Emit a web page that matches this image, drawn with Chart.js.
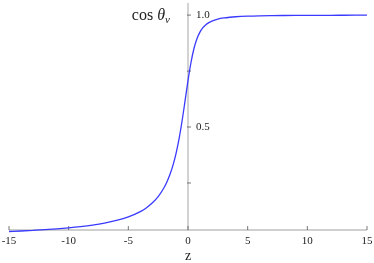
<!DOCTYPE html>
<html>
<head>
<meta charset="utf-8">
<script src="https://cdn.jsdelivr.net/npm/chart.js@4/dist/chart.umd.min.js"></script>
<style>
  html, body { margin: 0; padding: 0; background: #fff; }
  #wrap { width: 374px; height: 263px; }
</style>
</head>
<body>
<div id="wrap"><canvas id="chart" width="374" height="263"></canvas></div>
<script>
'use strict';

// z values and cos(theta_nu)
const zValues = [-15, -14, -13, -12, -11, -10, -9, -8, -7, -6, -5, -4, -3.5, -3, -2.5, -2,
  -1.75, -1.5, -1.25, -1, -0.75, -0.5, -0.25, 0, 0.25, 0.5, 0.75, 1, 1.25, 1.5, 1.75, 2,
  2.5, 3, 3.5, 4, 5, 6, 7, 8, 9, 10, 11, 12, 13, 14, 15];
const cosTheta = [0.0333, 0.0356, 0.0384, 0.0416, 0.0453, 0.0498, 0.0553, 0.0621, 0.0709,
  0.0825, 0.0985, 0.1222, 0.1387, 0.1602, 0.1891, 0.2298, 0.2567, 0.2898, 0.3310, 0.3827,
  0.4472, 0.5257, 0.6154, 0.7071, 0.7882, 0.8507, 0.8944, 0.9239, 0.9436, 0.9571, 0.9665,
  0.9733, 0.9820, 0.9871, 0.9903, 0.9925, 0.9951, 0.9966, 0.9975, 0.9981, 0.9985, 0.9988,
  0.9990, 0.9991, 0.9993, 0.9994, 0.9995];

const xTicks = [-15, -10, -5, 0, 5, 10, 15];
const yTicks = [0.25, 0.5, 0.75, 1.0];
const yTickLabels = { 0.5: '0.5', 1.0: '1.0' };

const axisColor = '#c0c0c0';
const textColor = '#222';

// axes drawn through the chart's scales (x axis at bottom, y axis at z = 0)
const axesPlugin = {
  id: 'axes',
  beforeDatasetsDraw(chart) {
    const { ctx, chartArea, scales: { x, y } } = chart;
    const x0 = x.getPixelForValue(0);
    const yb = chartArea.bottom;
    ctx.save();
    ctx.strokeStyle = axisColor;
    ctx.lineWidth = 1.4;
    ctx.beginPath();
    ctx.moveTo(chartArea.left, yb);
    ctx.lineTo(chartArea.right, yb);
    ctx.moveTo(x0, chartArea.top);
    ctx.lineTo(x0, yb + 1);
    ctx.stroke();

    ctx.strokeStyle = '#555';
    ctx.lineWidth = 0.8;
    ctx.beginPath();
    xTicks.forEach(v => {
      const px = x.getPixelForValue(v);
      ctx.moveTo(px, yb);
      ctx.lineTo(px, yb - 4);
    });
    yTicks.forEach(v => {
      const py = y.getPixelForValue(v);
      ctx.moveTo(x0 - 1, py);
      ctx.lineTo(x0 + 3, py);
    });
    ctx.stroke();

    ctx.fillStyle = textColor;
    ctx.font = '11px "Liberation Serif", serif';
    ctx.textAlign = 'center';
    ctx.textBaseline = 'middle';
    xTicks.forEach(v => {
      ctx.fillText(v < 0 ? '-' + Math.abs(v) : String(v), x.getPixelForValue(v), yb + 11);
    });
    ctx.textAlign = 'left';
    yTicks.forEach(v => {
      if (yTickLabels[v]) ctx.fillText(yTickLabels[v], x0 + 8, y.getPixelForValue(v));
    });

    // axis titles
    ctx.textBaseline = 'alphabetic';
    ctx.font = '14px "Liberation Serif", serif';
    ctx.textAlign = 'center';
    ctx.fillText('z', x0, 260);
    ctx.textAlign = 'right';
    ctx.font = '16px "Liberation Serif", serif';
    const cosW = ctx.measureText('cos ').width;
    ctx.font = 'italic 16px "Liberation Serif", serif';
    const thW = ctx.measureText('θ').width;
    const right = 165;
    ctx.textAlign = 'left';
    ctx.font = '16px "Liberation Serif", serif';
    ctx.fillText('cos ', right - thW - cosW, 20);
    ctx.font = 'italic 16px "Liberation Serif", serif';
    ctx.fillText('θ', right - thW, 20);
    ctx.font = 'italic 11px "Liberation Serif", serif';
    ctx.fillText('ν', right, 23);
    ctx.restore();
  }
};

new Chart(document.getElementById('chart'), {
  type: 'line',
  data: {
    labels: zValues,
    datasets: [{
      data: zValues.map((z, i) => ({ x: z, y: cosTheta[i] })),
      borderColor: '#3a3aff',
      borderWidth: 1.3,
      pointRadius: 0,
      fill: false,
      cubicInterpolationMode: 'monotone',
      clip: false
    }]
  },
  options: {
    responsive: false,
    animation: false,
    layout: { padding: { left: 9, right: 7, top: 3, bottom: 33 } },
    plugins: { legend: { display: false }, tooltip: { enabled: false } },
    scales: {
      x: { type: 'linear', min: -15, max: 15, display: false },
      y: { type: 'linear', min: 0.04, max: 1.054, display: false }
    }
  },
  plugins: [axesPlugin]
});
</script>
</body>
</html>
